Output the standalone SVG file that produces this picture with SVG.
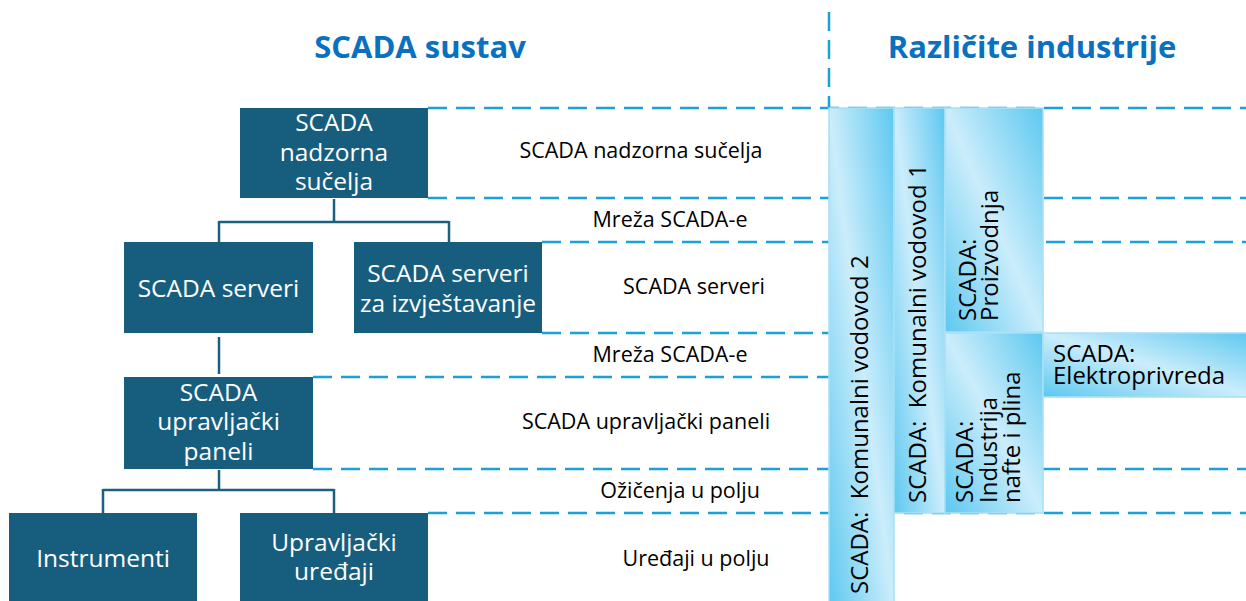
<svg xmlns="http://www.w3.org/2000/svg" width="1246" height="601" viewBox="0 0 1246 601">
<defs>
<linearGradient id="bg" x1="0" y1="1" x2="1" y2="0">
<stop offset="0" stop-color="#5dc8f0"/>
<stop offset="0.5" stop-color="#cbedfb"/>
<stop offset="1" stop-color="#5dc8f0"/>
</linearGradient>
<style>
.title{font-family:"Open Sans","Liberation Sans",sans-serif;font-weight:bold;font-size:31px;fill:#0a70c0;text-anchor:middle}
.dash{stroke:#1ba0d8;stroke-width:2.5;stroke-dasharray:19 9;fill:none}
.box{fill:#175e7e}
.bt{font-family:"Open Sans","Liberation Sans",sans-serif;font-size:24.5px;fill:#ffffff;text-anchor:middle}
.lbl{font-family:"Open Sans","Liberation Sans",sans-serif;font-size:21.5px;fill:#000000;text-anchor:middle}
.bar{fill:url(#bg);stroke:#a8e0f6;stroke-width:1.5}
.bart{font-family:"Open Sans","Liberation Sans",sans-serif;font-size:24px;fill:#000000}
.conn{stroke:#1d5f7e;stroke-width:2.5;fill:none}
</style>
</defs>
<rect width="1246" height="601" fill="#ffffff"/>
<text class="title" x="420" y="58">SCADA sustav</text>
<text class="title" x="1032" y="58">Različite industrije</text>
<g id="guides">
<line class="dash" x1="829" y1="12" x2="829" y2="108"/>
<line class="dash" x1="428" y1="108" x2="1246" y2="108"/>
<line class="dash" x1="428" y1="198" x2="1246" y2="198"/>
<line class="dash" x1="542" y1="242" x2="1246" y2="242"/>
<line class="dash" x1="542" y1="333" x2="829" y2="333"/>
<line class="dash" x1="313" y1="377" x2="829" y2="377"/>
<line class="dash" x1="313" y1="469" x2="1246" y2="469"/>
<line class="dash" x1="428" y1="513" x2="1246" y2="513"/>
</g>
<g id="layer-labels">
<text class="lbl" x="641" y="158">SCADA nadzorna sučelja</text>
<text class="lbl" x="670" y="227">Mreža SCADA-e</text>
<text class="lbl" x="694" y="294">SCADA serveri</text>
<text class="lbl" x="670" y="362">Mreža SCADA-e</text>
<text class="lbl" x="646" y="429">SCADA upravljački paneli</text>
<text class="lbl" x="680" y="498">Ožičenja u polju</text>
<text class="lbl" x="696" y="566">Uređaji u polju</text>
</g>
<g id="connectors">
<path class="conn" d="M334 199 V222 M219 222 H449 M219 221 V242 M449 221 V242"/>
<path class="conn" d="M219 337 V374"/>
<path class="conn" d="M219 470 V490 M103 490 H334 M103 489 V513 M334 489 V513"/>
</g>
<g id="n-nadzorna"><rect class="box" x="240" y="108" width="188" height="90"/>
<text class="bt" x="334" y="131">SCADA</text><text class="bt" x="334" y="161">nadzorna</text><text class="bt" x="334" y="190">sučelja</text></g>
<g id="n-serveri"><rect class="box" x="124" y="242" width="189" height="91"/>
<text class="bt" x="218.5" y="297">SCADA serveri</text></g>
<g id="n-izvjestavanje"><rect class="box" x="354" y="242" width="188" height="91"/>
<text class="bt" x="448" y="282">SCADA serveri</text><text class="bt" x="448" y="312">za izvještavanje</text></g>
<g id="n-paneli"><rect class="box" x="124" y="377" width="189" height="92"/>
<text class="bt" x="218.5" y="401">SCADA</text><text class="bt" x="218.5" y="430">upravljački</text><text class="bt" x="218.5" y="460">paneli</text></g>
<g id="n-instrumenti"><rect class="box" x="9" y="513" width="188" height="92"/>
<text class="bt" x="103" y="567">Instrumenti</text></g>
<g id="n-uredaji"><rect class="box" x="240" y="513" width="188" height="92"/>
<text class="bt" x="334" y="551">Upravljački</text><text class="bt" x="334" y="580">uređaji</text></g>
<g id="b-vodovod2"><rect class="bar" x="829" y="108" width="65" height="500"/>
<text class="bart" transform="translate(868 594) rotate(-90)">SCADA:&#160; Komunalni vodovod 2</text></g>
<g id="b-vodovod1"><rect class="bar" x="894" y="108" width="51" height="405"/>
<text class="bart" transform="translate(926 503) rotate(-90)">SCADA:&#160; Komunalni vodovod 1</text></g>
<g id="b-proizvodnja"><rect class="bar" x="945" y="108" width="98" height="224"/>
<text class="bart" transform="translate(976 321) rotate(-90)"><tspan x="0" y="0">SCADA:</tspan><tspan x="0" y="22">Proizvodnja</tspan></text></g>
<g id="b-nafta"><rect class="bar" x="945" y="333" width="98" height="180"/>
<text class="bart" transform="translate(973 503) rotate(-90)"><tspan x="0" y="0">SCADA:</tspan><tspan x="0" y="24">Industrija</tspan><tspan x="0" y="47">nafte i plina</tspan></text></g>
<g id="b-elektro"><rect class="bar" x="1043" y="333" width="210" height="64"/>
<text class="bart"><tspan x="1053" y="362">SCADA:</tspan><tspan x="1053" y="384">Elektroprivreda</tspan></text></g>
</svg>
